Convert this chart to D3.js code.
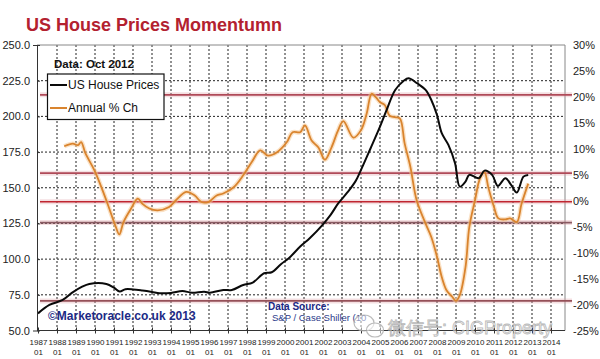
<!DOCTYPE html>
<html>
<head>
<meta charset="utf-8">
<script src="https://cdn.jsdelivr.net/npm/d3@7"></script>
<style>
  body { margin: 0; background: #fff; }
  svg { display: block; }
  text { font-family: Arial, "Liberation Sans", sans-serif; }
</style>
</head>
<body>
<svg width="600" height="359"></svg>
<script>
// Case-Shiller 10 city index (left axis), [year, value]
var priceSeries = [
  [1987.0, 62.0], [1987.6, 67.9], [1988.3, 71.4], [1988.8, 76.5], [1989.3, 80.5], [1989.7, 82.6],
  [1990.6, 82.6], [1991.0, 80.0], [1991.3, 77.3], [1991.6, 78.9], [1992.0, 78.8], [1992.5, 78.0],
  [1993.0, 77.0], [1993.4, 76.1], [1994.0, 76.3], [1994.6, 77.6], [1995.1, 76.5], [1995.75, 77.2],
  [1996.05, 76.5], [1996.75, 78.4], [1997.2, 78.4], [1997.8, 81.9], [1998.3, 83.6], [1998.9, 90.1],
  [1999.3, 90.8], [1999.8, 96.6], [2000.2, 100.6], [2000.8, 108.8], [2001.3, 114.6], [2002.0, 124.4],
  [2002.4, 131.0], [2002.8, 139.0], [2003.25, 146.2], [2003.7, 154.3], [2004.0, 162.5], [2004.5, 177.5],
  [2005.0, 192.8], [2005.35, 204.5], [2005.8, 218.5], [2006.25, 225.0], [2006.5, 226.7], [2006.95, 223.2],
  [2007.4, 218.5], [2007.7, 211.5], [2008.0, 201.0], [2008.25, 188.2], [2008.6, 180.0], [2008.95, 167.2],
  [2009.2, 150.8], [2009.5, 154.3], [2009.7, 159.0], [2010.2, 156.7], [2010.5, 162.0], [2010.9, 159.0],
  [2011.2, 151.3], [2011.6, 156.7], [2011.9, 152.0], [2012.2, 146.6], [2012.55, 157.8], [2012.8, 159.0]
];

// annual % change (right axis), [year, percent]
var changeSeries = [
  [1988.38, 10.5], [1988.83, 11.0], [1989.1, 10.7], [1989.27, 11.3], [1989.5, 9.1], [1989.97, 5.85],
  [1990.4, 2.0], [1990.75, -1.5], [1991.1, -5.1], [1991.28, -6.5], [1991.5, -4.1], [1991.9, -1.5],
  [1992.25, 0.4], [1992.5, -0.6], [1992.86, -1.5], [1993.3, -1.85], [1993.9, -1.2], [1994.26, 0.1],
  [1994.8, 1.7], [1995.25, 1.0], [1995.6, -0.25], [1995.96, -0.25], [1996.4, 1.0], [1996.75, 1.4],
  [1997.3, 2.6], [1997.8, 4.9], [1998.25, 7.45], [1998.7, 9.7], [1999.1, 8.7], [1999.6, 9.4],
  [2000.1, 11.3], [2000.4, 13.2], [2000.8, 13.2], [2001.05, 14.5], [2001.4, 11.6], [2001.75, 10.3],
  [2002.1, 7.9], [2002.45, 10.3], [2002.8, 13.6], [2003.07, 15.35], [2003.6, 12.15], [2004.0, 13.6],
  [2004.3, 16.8], [2004.56, 20.6], [2004.8, 19.85], [2005.0, 19.0], [2005.26, 18.4], [2005.5, 16.4],
  [2005.8, 16.1], [2006.05, 15.8], [2006.3, 11.0], [2006.6, 6.5], [2006.93, 0.1], [2007.4, -4.4],
  [2007.7, -7.0], [2008.0, -10.8], [2008.25, -14.7], [2008.5, -17.25], [2008.8, -18.5], [2009.0, -19.3],
  [2009.2, -18.2], [2009.5, -12.8], [2009.7, -5.1], [2010.0, 0.1], [2010.26, 4.25], [2010.5, 5.5],
  [2010.7, 2.6], [2011.0, -1.2], [2011.23, -3.4], [2011.6, -3.6], [2011.85, -3.4], [2012.2, -4.1],
  [2012.45, -0.6], [2012.8, 3.3]
];

var leftTicks = d3.range(50, 251, 25);
var rightTicks = d3.range(-25, 31, 5);
var yearTicks = d3.range(1987, 2015);
var levelLines = [20.4, 5.3, -0.2, -4.2, -19.3];
var levelColors = ["#b04a58", "#b04a58", "#c02630", "#8a5a62", "#955058"];
var legendItems = ["US House Prices", "Annual % Ch"];

var svg = d3.select("svg");
var plot = {left: 37, right: 565, top: 45, bottom: 330.5};

var x = d3.scaleLinear().domain([1987, 2014]).range([38, 551]);
var yL = d3.scaleLinear().domain([50, 250]).range([plot.bottom, plot.top]);
var yR = d3.scaleLinear().domain([-25, 30]).range([plot.bottom, plot.top]);

// title
svg.append("text")
  .attr("x", 26).attr("y", 31)
  .attr("font-size", 18).attr("font-weight", "bold")
  .attr("fill", "#b3212f")
  .text("US House Prices Momentumn");

// grid
var grid = svg.append("g");
grid.selectAll("line.v").data(yearTicks.slice(1))
  .enter().append("line")
  .attr("x1", function(d) { return x(d); }).attr("x2", function(d) { return x(d); })
  .attr("y1", plot.top).attr("y2", plot.bottom)
  .attr("stroke", "#222").attr("stroke-width", 1).attr("stroke-dasharray", "2,2");
grid.selectAll("line.h").data(leftTicks.slice(1, -1))
  .enter().append("line")
  .attr("x1", plot.left).attr("x2", plot.right)
  .attr("y1", function(d) { return yL(d); }).attr("y2", function(d) { return yL(d); })
  .attr("stroke", "#222").attr("stroke-width", 1).attr("stroke-dasharray", "2,2");

// frame top + right
svg.append("path")
  .attr("d", "M" + plot.left + "," + plot.top + "H" + plot.right + "V" + plot.bottom)
  .attr("fill", "none").attr("stroke", "#888").attr("stroke-width", 1);

// reference levels
var levels = svg.append("g");
levels.selectAll("line.halo").data(levelLines)
  .enter().append("line")
  .attr("x1", plot.left + 3).attr("x2", plot.right + 7)
  .attr("y1", function(d) { return yR(d); }).attr("y2", function(d) { return yR(d); })
  .attr("stroke", "rgba(220,150,155,0.3)").attr("stroke-width", 5);
levels.selectAll("line.core").data(levelLines)
  .enter().append("line")
  .attr("x1", plot.left + 3).attr("x2", plot.right + 7)
  .attr("y1", function(d) { return yR(d); }).attr("y2", function(d) { return yR(d); })
  .attr("stroke", function(d, i) { return levelColors[i]; })
  .attr("stroke-width", function(d, i) { return i === 2 ? 1.3 : 1.8; });

// series
var priceLine = d3.line()
  .x(function(d) { return x(d[0]); })
  .y(function(d) { return yL(d[1]); })
  .curve(d3.curveCatmullRom.alpha(0.5));
var changeLine = d3.line()
  .x(function(d) { return x(d[0]); })
  .y(function(d) { return yR(d[1]); })
  .curve(d3.curveCatmullRom.alpha(0.5));

svg.append("path").datum(changeSeries)
  .attr("d", changeLine).attr("fill", "none")
  .attr("stroke", "rgba(245,200,150,0.55)").attr("stroke-width", 4.5);
svg.append("path").datum(changeSeries)
  .attr("d", changeLine).attr("fill", "none")
  .attr("stroke", "#d9842e").attr("stroke-width", 1.8);
svg.append("path").datum(priceSeries)
  .attr("d", priceLine).attr("fill", "none")
  .attr("stroke", "#0a0a0a").attr("stroke-width", 2);

// left axis
var axL = svg.append("g")
  .attr("transform", "translate(" + plot.left + ",0)")
  .call(d3.axisLeft(yL).tickValues(leftTicks).tickFormat(d3.format(".1f")).tickSize(4).tickPadding(3));
axL.select(".domain").attr("stroke", "#333");
axL.selectAll(".tick line").attr("x2", 3).attr("stroke", "#333");
axL.selectAll("text").attr("font-size", 11).attr("fill", "#222").attr("font-family", null);

// right axis
var axR = svg.append("g")
  .attr("transform", "translate(" + plot.right + ",0)")
  .call(d3.axisRight(yR).tickValues(rightTicks).tickFormat(function(d) { return d + "%"; }).tickSize(0).tickPadding(8));
axR.select(".domain").remove();
axR.selectAll("text").attr("font-size", 11).attr("fill", "#222").attr("font-family", null);

// bottom axis
var axB = svg.append("g")
  .attr("transform", "translate(0," + plot.bottom + ")")
  .call(d3.axisBottom(x).tickValues(yearTicks).tickFormat(d3.format("d")).tickSize(3));
axB.select(".domain").remove();
axB.append("line")
  .attr("x1", plot.left).attr("x2", plot.right)
  .attr("stroke", "#333");
axB.selectAll(".tick line").attr("y1", -3).attr("y2", 3).attr("stroke", "#333");
axB.selectAll(".tick text")
  .attr("font-size", 8).attr("fill", "#222").attr("font-family", null)
  .attr("y", 8.5)
  .append("tspan").attr("x", 0).attr("dy", "1.3em").text("01");

// legend
svg.append("text")
  .attr("x", 54).attr("y", 67.5)
  .attr("font-size", 11.5).attr("font-weight", "bold").attr("fill", "#111")
  .text("Data: Oct 2012");
svg.append("rect")
  .attr("x", 47.5).attr("y", 74).attr("width", 116.5).attr("height", 45.5)
  .attr("fill", "#fff").attr("stroke", "#111").attr("stroke-width", 1.2);
var legendColors = ["#0a0a0a", "#d9842e"];
var lg = svg.selectAll("g.legend").data(legendItems)
  .enter().append("g")
  .attr("transform", function(d, i) { return "translate(50," + (85 + i * 23) + ")"; });
lg.append("line")
  .attr("x1", 0).attr("x2", 17)
  .attr("stroke", function(d, i) { return legendColors[i]; })
  .attr("stroke-width", 2);
lg.append("text")
  .attr("x", 18).attr("y", 4.3)
  .attr("font-size", 12).attr("fill", "#111")
  .text(function(d) { return d; });

// credits
svg.append("text")
  .attr("x", 48).attr("y", 319.5)
  .attr("font-size", 12).attr("font-weight", "bold").attr("fill", "#1c2a86")
  .text("\u00a9Marketoracle.co.uk 2013");
svg.append("text")
  .attr("x", 268).attr("y", 310)
  .attr("font-size", 10).attr("font-weight", "bold").attr("fill", "#1c2a86")
  .text("Data Source:");
svg.append("text")
  .attr("x", 272).attr("y", 321)
  .attr("font-size", 9.5).attr("fill", "#2a3a8a")
  .text("S&P / Case Shiller (10");

// watermark
var wm = svg.append("g").attr("opacity", 0.85);
wm.append("ellipse").attr("cx", 364).attr("cy", 323).attr("rx", 10).attr("ry", 8)
  .attr("fill", "rgba(255,255,255,0.6)").attr("stroke", "#b0b0b0").attr("stroke-width", 1.2);
wm.append("ellipse").attr("cx", 375).attr("cy", 330).attr("rx", 8.5).attr("ry", 7)
  .attr("fill", "rgba(255,255,255,0.6)").attr("stroke", "#b0b0b0").attr("stroke-width", 1.2);
wm.append("text")
  .attr("x", 388).attr("y", 334)
  .attr("font-size", 18).attr("font-family", "'Noto Sans CJK SC', sans-serif")
  .attr("fill", "rgba(240,240,240,0.6)").attr("stroke", "#adadad").attr("stroke-width", 0.8)
  .text("微信号: CIGProperty");
</script>
</body>
</html>
